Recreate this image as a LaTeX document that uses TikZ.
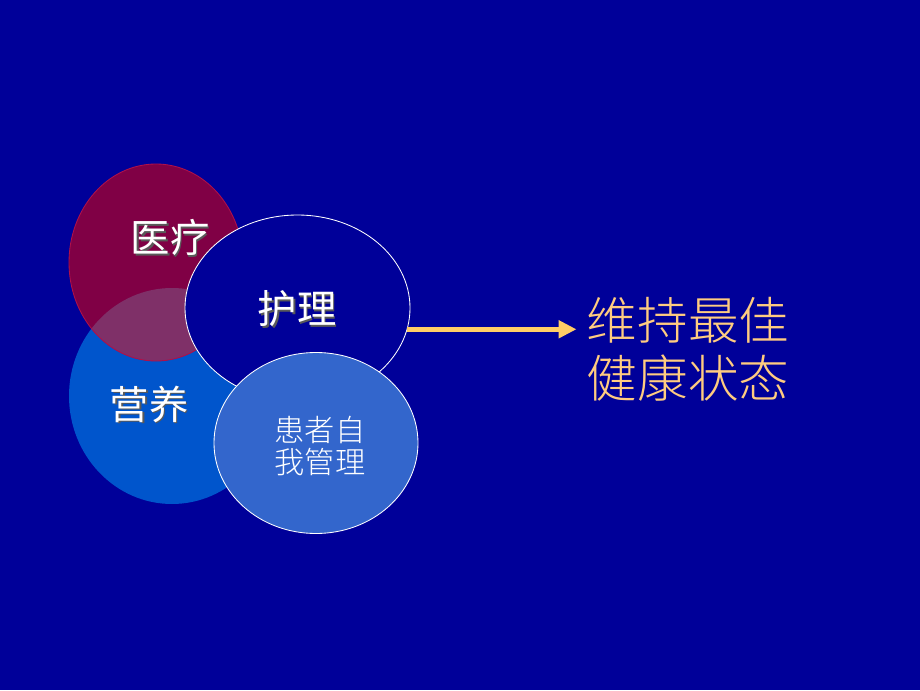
\documentclass[tikz,border=0pt]{standalone}
\usepackage{fontspec}
\setmainfont{Noto Sans CJK SC}
\newfontfamily\lightcjk{Noto Sans CJK SC}[UprightFont={* Light}]
\usetikzlibrary{arrows.meta,shapes.geometric}
\definecolor{slidebg}{HTML}{000099}
\definecolor{medred}{HTML}{800045}
\definecolor{medline}{HTML}{B0104A}
\definecolor{nutriblue}{HTML}{0055CC}
\definecolor{overlapmix}{HTML}{7F3068}
\definecolor{selfblue}{HTML}{3366CC}
\definecolor{goalorange}{HTML}{FFCC80}
\definecolor{arroworange}{HTML}{FFCC66}
\newcommand{\shadowtext}[1]{\makebox[0pt][l]{\hspace{0.05em}\raisebox{-0.05em}{\color{black!65}#1}}#1}
\tikzset{
    bubble/.style={ellipse, inner sep=0pt, outer sep=0pt},
    bigword/.style={text=white, inner sep=0pt, font=\fontsize{28pt}{34pt}\selectfont},
    smallword/.style={text=white, inner sep=0pt, align=center, font=\lightcjk\fontsize{21.5pt}{22.8pt}\selectfont},
    goaltext/.style={text=goalorange, inner sep=0pt, align=left, font=\lightcjk\fontsize{36pt}{41pt}\selectfont}
}
\begin{document}
\begin{tikzpicture}[scale=1.0]
        \fill[slidebg] (0,0) rectangle (23,17.25);
        \useasboundingbox (0,0) rectangle (23,17.25);
        \node[bubble, fill=nutriblue, minimum width=5.15cm, minimum height=5.4cm] (nutrition) at (4.3,7.35) {};
        \node[bubble, fill=medred, minimum width=4.35cm, minimum height=4.925cm] (medical) at (3.9,10.6875) {};
        \begin{scope}
            \clip (medical.center) ellipse [x radius=2.175cm, y radius=2.4625cm];
            \fill[overlapmix] (nutrition.center) ellipse [x radius=2.575cm, y radius=2.7cm];
        \end{scope}
        \draw[medline, line width=0.6pt] (medical.center) ellipse [x radius=2.175cm, y radius=2.4625cm];
        \node[bubble, fill=slidebg, draw=white!90, line width=0.6pt, minimum width=5.625cm, minimum height=4.65cm] (care) at (7.4375,9.55) {};
        \node[bubble, fill=selfblue, draw=white!90, line width=0.6pt, minimum width=5.1cm, minimum height=4.525cm] (selfcare) at (7.9,6.175) {};
        \node[bigword] (medicallabel) at (4.25,11.3) {\shadowtext{医疗}};
        \node[bigword] (carelabel) at (7.425,9.5) {\shadowtext{护理}};
        \node[bigword] (nutritionlabel) at (3.725,7.125) {\shadowtext{营养}};
        \node[smallword] (selfcarelabel) at (8.0,6.1) {患者自\\我管理};
        \node[goaltext] (goal) at (17.2,8.525) {维持最佳\\健康状态};
        \draw[arroworange, line width=3.5pt, -{Triangle[length=0.45cm, width=0.43cm]}, shorten >=0.25cm] (care.-11) -- (care.-11 -| goal.west);
    \end{tikzpicture}
\end{document}
